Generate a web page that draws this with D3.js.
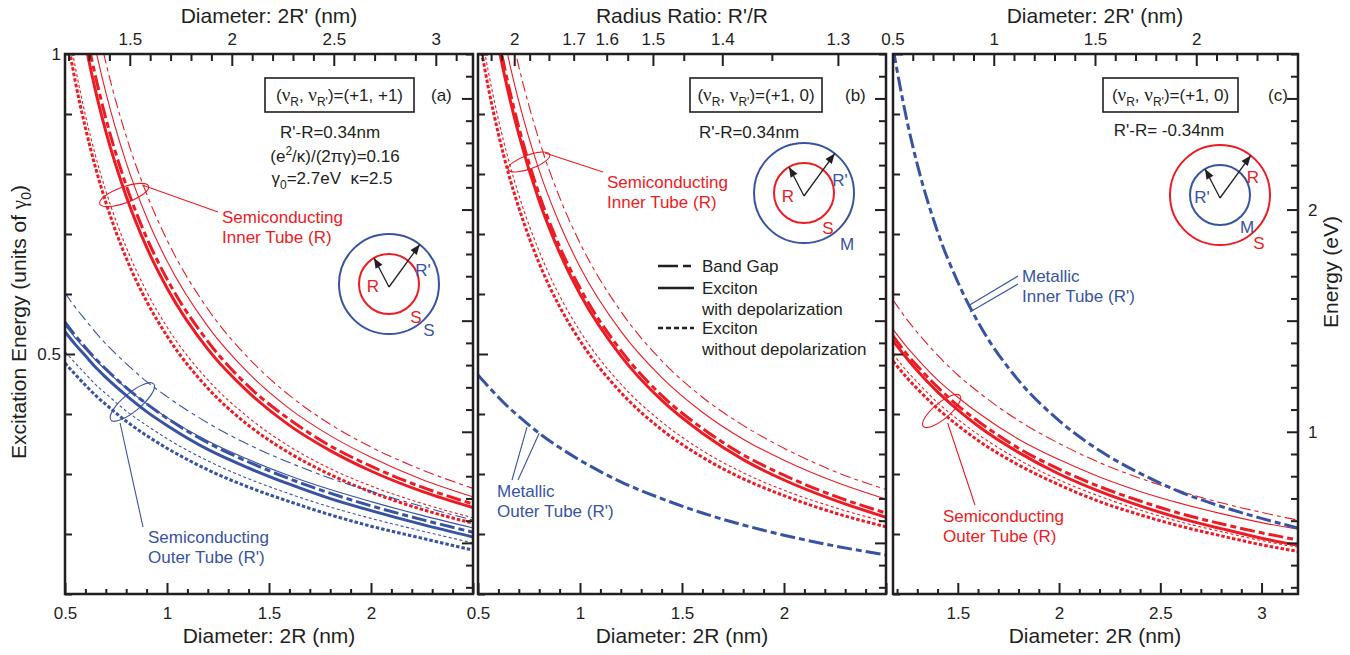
<!DOCTYPE html>
<html>
<head>
<meta charset="utf-8">
<title>Excitation energy of double-walled tubes</title>
<script src="https://d3js.org/d3.v7.min.js"></script>
<style>
  body { margin: 0; background: #fff; }
  text { font-family: "Liberation Sans", Arial, sans-serif; fill: #231f20; }
</style>
</head>
<body>
<div id="stage"></div>
<script>
// diameters 2R (nm) where curves were read, panels (a) and (b)
var dAB = [0.5, 0.55, 0.6, 0.65, 0.7, 0.8, 0.9, 1.0, 1.2, 1.4, 1.6, 1.8, 2.0, 2.25, 2.5];
// diameters 2R (nm) for panel (c)
var dC = [1.18, 1.25, 1.3, 1.4, 1.5, 1.6, 1.8, 2.0, 2.2, 2.4, 2.6, 2.8, 3.0, 3.18];

// panel (a): inner tube (red)
var aInGapThin   = [1.38, 1.255, 1.15, 1.062, 0.986, 0.863, 0.767, 0.69, 0.575, 0.493, 0.431, 0.383, 0.345, 0.307, 0.276];
var aInExThin    = [1.31, 1.191, 1.092, 1.008, 0.936, 0.819, 0.728, 0.655, 0.546, 0.468, 0.409, 0.364, 0.328, 0.291, 0.262];
var aInGap       = [1.25, 1.136, 1.042, 0.962, 0.893, 0.781, 0.694, 0.625, 0.521, 0.446, 0.391, 0.347, 0.313, 0.278, 0.25];
var aInEx        = [1.22, 1.109, 1.017, 0.938, 0.871, 0.763, 0.678, 0.61, 0.508, 0.436, 0.381, 0.339, 0.305, 0.271, 0.244];
var aInNoDepThin = [1.075, 0.979, 0.898, 0.83, 0.772, 0.678, 0.604, 0.545, 0.457, 0.394, 0.346, 0.309, 0.28, 0.251, 0.227];
var aInNoDep     = [1.05, 0.955, 0.877, 0.81, 0.753, 0.66, 0.588, 0.53, 0.443, 0.381, 0.335, 0.299, 0.27, 0.241, 0.218];
// panel (a): outer tube (blue)
var aOutGapThin   = [0.602, 0.578, 0.557, 0.536, 0.517, 0.484, 0.454, 0.429, 0.385, 0.349, 0.319, 0.293, 0.271, 0.246, 0.223];
var aOutExThin    = [0.548, 0.527, 0.508, 0.49, 0.473, 0.443, 0.417, 0.394, 0.355, 0.324, 0.297, 0.274, 0.254, 0.231, 0.21];
var aOutGap       = [0.553, 0.531, 0.511, 0.492, 0.475, 0.444, 0.417, 0.393, 0.352, 0.32, 0.292, 0.268, 0.247, 0.224, 0.203];
var aOutEx        = [0.537, 0.516, 0.497, 0.478, 0.461, 0.431, 0.404, 0.381, 0.341, 0.31, 0.283, 0.259, 0.239, 0.216, 0.195];
var aOutNoDepThin = [0.504, 0.485, 0.467, 0.449, 0.434, 0.405, 0.381, 0.359, 0.322, 0.292, 0.267, 0.245, 0.226, 0.205, 0.185];
var aOutNoDep     = [0.485, 0.466, 0.448, 0.431, 0.416, 0.388, 0.364, 0.343, 0.307, 0.278, 0.254, 0.232, 0.213, 0.193, 0.173];

// panel (b): inner tube (red), metallic outer tube (blue)
var bInGapThin   = [1.37, 1.245, 1.142, 1.054, 0.979, 0.856, 0.761, 0.685, 0.571, 0.489, 0.428, 0.381, 0.343, 0.304, 0.274];
var bInExThin    = [1.29, 1.173, 1.075, 0.992, 0.921, 0.806, 0.717, 0.645, 0.538, 0.461, 0.403, 0.358, 0.323, 0.287, 0.258];
var bInGap       = [1.235, 1.121, 1.027, 0.947, 0.878, 0.766, 0.679, 0.61, 0.506, 0.431, 0.376, 0.332, 0.298, 0.263, 0.235];
var bInEx        = [1.22, 1.107, 1.013, 0.934, 0.866, 0.755, 0.669, 0.6, 0.497, 0.423, 0.368, 0.324, 0.29, 0.256, 0.228];
var bInNoDepThin = [1.068, 0.972, 0.891, 0.823, 0.765, 0.671, 0.597, 0.538, 0.45, 0.387, 0.339, 0.302, 0.273, 0.244, 0.22];
var bInNoDep     = [1.039, 0.945, 0.867, 0.8, 0.744, 0.651, 0.579, 0.522, 0.436, 0.374, 0.328, 0.292, 0.264, 0.235, 0.212];
var bOutMetal    = [0.465, 0.446, 0.428, 0.411, 0.396, 0.368, 0.344, 0.323, 0.287, 0.259, 0.235, 0.215, 0.198, 0.18, 0.165];

// panel (c): outer tube (red), metallic inner tube (blue)
var cOutGapThin   = [0.59, 0.557, 0.536, 0.498, 0.465, 0.437, 0.389, 0.351, 0.319, 0.293, 0.271, 0.252, 0.236, 0.223];
var cOutExThin    = [0.541, 0.511, 0.492, 0.457, 0.428, 0.402, 0.358, 0.324, 0.295, 0.271, 0.251, 0.234, 0.219, 0.208];
var cOutGap       = [0.53, 0.499, 0.48, 0.445, 0.414, 0.388, 0.343, 0.308, 0.279, 0.255, 0.234, 0.217, 0.202, 0.19];
var cOutEx        = [0.522, 0.492, 0.472, 0.437, 0.407, 0.38, 0.336, 0.3, 0.271, 0.247, 0.226, 0.209, 0.193, 0.181];
var cOutNoDepThin = [0.5, 0.471, 0.453, 0.419, 0.391, 0.366, 0.324, 0.29, 0.263, 0.24, 0.22, 0.204, 0.189, 0.178];
var cOutNoDep     = [0.488, 0.46, 0.442, 0.409, 0.381, 0.356, 0.315, 0.282, 0.254, 0.232, 0.213, 0.197, 0.182, 0.171];
var cInMetal      = [1.01, 0.887, 0.816, 0.704, 0.62, 0.553, 0.456, 0.389, 0.339, 0.301, 0.27, 0.246, 0.226, 0.21];

// tick values
var unitMinor = [0.1, 0.2, 0.3, 0.4, 0.6, 0.7, 0.8, 0.9];
var unitMajor = [0.5, 1];
var eVMinor = [0.3, 0.4, 0.6, 0.7, 0.8, 0.9, 1.1, 1.2, 1.3, 1.4, 1.6, 1.7, 1.8, 1.9, 2.1, 2.2, 2.3, 2.4, 2.6, 2.7];
var eVMajor = [0.5, 1, 1.5, 2, 2.5];
var eVLabels = [1, 2];
var ratioMajor = [2, 1.5, 1.4, 1.3];
var ratioMinor = [2.3, 2.2, 2.1, 1.9, 1.8, 1.7, 1.6, 1.55, 1.45, 1.35];
var ratioLabels = [2, 1.7, 1.6, 1.5, 1.4, 1.3];

var gamma0 = 2.7;   // eV
var shell = 0.68;   // 2(R'-R) in nm

var RED = "#ed1c24", BLUE = "#3953a4";

var svg = d3.select("#stage").append("svg").attr("width", 1350).attr("height", 655);

var yTop = 54, yBot = 594;
var y = d3.scaleLinear().domain([0.1, 1]).range([yBot, yTop]);
var yE = d3.scaleLinear().domain([0.1 * gamma0, gamma0]).range([yBot, yTop]);

var xa = d3.scaleLinear().domain([0.5, 2.5]).range([65, 473]);
var xb = d3.scaleLinear().domain([0.5, 2.5]).range([478, 886]);
var xc = d3.scaleLinear().domain([1.18, 3.18]).range([893, 1298]);

function dash(kind, thick) {
  if (kind === "gap") return thick ? "15,4,6,4" : "11,4,4,4";
  if (kind === "dot") return thick ? "3.5,2" : "3,2.5";
  return null;
}

function tickAxis(g, axis, len, vals, fmt) {
  g.call(axis.tickValues(vals).tickSize(len).tickPadding(6).tickFormat(fmt || ""))
   .call(function (s) { s.select(".domain").remove(); })
   .call(function (s) { s.selectAll("line").attr("stroke", "#231f20").attr("stroke-width", 2); })
   .call(function (s) { s.selectAll("text").attr("font-size", 17).attr("fill", "#231f20")
       .style("font-family", "Liberation Sans, Arial, sans-serif"); });
}

function panel(id, x, grid, series, bottomLabels) {
  var g = svg.append("g");
  var x0 = x.range()[0], x1 = x.range()[1];
  svg.append("clipPath").attr("id", "clip" + id)
    .append("rect").attr("x", x0).attr("y", yTop).attr("width", x1 - x0).attr("height", yBot - yTop);

  var line = d3.line().x(function (d) { return x(d[0]); }).y(function (d) { return y(d[1]); })
    .curve(d3.curveMonotoneX);
  var lines = g.append("g").attr("clip-path", "url(#clip" + id + ")");
  series.forEach(function (s) {
    lines.append("path")
      .datum(grid.map(function (d, i) { return [d, s.v[i]]; }))
      .attr("d", line)
      .attr("fill", "none")
      .attr("stroke", s.c)
      .attr("stroke-width", s.w ? 3 : 1.1)
      .attr("stroke-dasharray", dash(s.k, s.w));
  });

  // bottom ticks
  var minorB = d3.range(Math.ceil(x.domain()[0] * 10), Math.floor(x.domain()[1] * 10) + 1)
    .map(function (v) { return v / 10; }).filter(function (v) { return Math.abs(v * 2 - Math.round(v * 2)) > 1e-6; });
  var majorB = d3.range(Math.ceil(x.domain()[0] * 2), Math.floor(x.domain()[1] * 2) + 1).map(function (v) { return v / 2; });
  tickAxis(g.append("g").attr("transform", "translate(0," + yBot + ")"), d3.axisBottom(x), -5, minorB);
  var lab = g.append("g").attr("transform", "translate(0," + yBot + ")");
  tickAxis(lab, d3.axisBottom(x), -11, majorB,
    function (v) { return bottomLabels.indexOf(v) >= 0 ? String(v) : ""; });
  lab.selectAll("text").attr("y", 10).attr("dy", "0.9em");

  // left ticks (units of gamma0)
  tickAxis(g.append("g").attr("transform", "translate(" + x0 + ",0)"), d3.axisLeft(y), -7, unitMinor);
  tickAxis(g.append("g").attr("transform", "translate(" + x0 + ",0)"), d3.axisLeft(y), -10, unitMajor);
  // right ticks (eV)
  tickAxis(g.append("g").attr("transform", "translate(" + x1 + ",0)"), d3.axisRight(yE), -7, eVMinor);
  tickAxis(g.append("g").attr("transform", "translate(" + x1 + ",0)"), d3.axisRight(yE), -11, eVMajor);

  g.append("rect").attr("x", x0).attr("y", yTop).attr("width", x1 - x0).attr("height", yBot - yTop)
    .attr("fill", "none").attr("stroke", "#231f20").attr("stroke-width", 2.5);
  return g;
}

var ga = panel("a", xa, dAB, [
  { v: aInGapThin, c: RED, k: "gap", w: false },
  { v: aInExThin, c: RED, k: "solid", w: false },
  { v: aInNoDepThin, c: RED, k: "dot", w: false },
  { v: aInGap, c: RED, k: "gap", w: true },
  { v: aInEx, c: RED, k: "solid", w: true },
  { v: aInNoDep, c: RED, k: "dot", w: true },
  { v: aOutGapThin, c: BLUE, k: "gap", w: false },
  { v: aOutExThin, c: BLUE, k: "solid", w: false },
  { v: aOutNoDepThin, c: BLUE, k: "dot", w: false },
  { v: aOutGap, c: BLUE, k: "gap", w: true },
  { v: aOutEx, c: BLUE, k: "solid", w: true },
  { v: aOutNoDep, c: BLUE, k: "dot", w: true }
], [0.5, 1, 1.5, 2]);

// unit labels on the left of (a)
unitMajor.forEach(function (v) {
  svg.append("text").attr("x", 61).attr("y", y(v)).attr("dy", "0.35em").attr("text-anchor", "end")
    .attr("font-size", 17).text(v);
});

var gb = panel("b", xb, dAB, [
  { v: bInGapThin, c: RED, k: "gap", w: false },
  { v: bInExThin, c: RED, k: "solid", w: false },
  { v: bInNoDepThin, c: RED, k: "dot", w: false },
  { v: bInGap, c: RED, k: "gap", w: true },
  { v: bInEx, c: RED, k: "solid", w: true },
  { v: bInNoDep, c: RED, k: "dot", w: true },
  { v: bOutMetal, c: BLUE, k: "gap", w: true }
], [0.5, 1, 1.5, 2]);

var gc = panel("c", xc, dC, [
  { v: cOutGapThin, c: RED, k: "gap", w: false },
  { v: cOutExThin, c: RED, k: "solid", w: false },
  { v: cOutNoDepThin, c: RED, k: "dot", w: false },
  { v: cOutGap, c: RED, k: "gap", w: true },
  { v: cOutEx, c: RED, k: "solid", w: true },
  { v: cOutNoDep, c: RED, k: "dot", w: true },
  { v: cInMetal, c: BLUE, k: "gap", w: true }
], [1.5, 2, 2.5, 3]);

// top axes
function topTicks(g, pos, minor, major, labels) {
  minor.forEach(function (v) {
    g.append("line").attr("x1", pos(v)).attr("x2", pos(v)).attr("y1", yTop).attr("y2", yTop + 7)
      .attr("stroke", "#231f20").attr("stroke-width", 2);
  });
  major.forEach(function (v) {
    g.append("line").attr("x1", pos(v)).attr("x2", pos(v)).attr("y1", yTop).attr("y2", yTop + 12)
      .attr("stroke", "#231f20").attr("stroke-width", 2);
  });
  labels.forEach(function (v) {
    g.append("text").attr("x", pos(v)).attr("y", yTop - 9).attr("text-anchor", "middle")
      .attr("font-size", 17).text(v);
  });
}
var xaTop = d3.scaleLinear().domain([xa.domain()[0] + shell, xa.domain()[1] + shell]).range(xa.range());
var xcTop = d3.scaleLinear().domain([xc.domain()[0] - shell, xc.domain()[1] - shell]).range(xc.range());
topTicks(ga, xaTop, d3.range(12, 32).map(function (v) { return v / 10; }).filter(function (v) { return Math.round(v * 10) % 5 !== 0; }),
  [1.5, 2, 2.5, 3], [1.5, 2, 2.5, 3]);
topTicks(gb, function (r) { return xb(shell / (r - 1)); }, ratioMinor, ratioMajor, ratioLabels);
topTicks(gc, xcTop, d3.range(6, 25).map(function (v) { return v / 10; }).filter(function (v) { return Math.round(v * 10) % 5 !== 0; }),
  [1, 1.5, 2], [0.5, 1, 1.5, 2]);

// energy labels on the right of (c)
eVLabels.forEach(function (v) {
  svg.append("text").attr("x", 1308).attr("y", yE(v)).attr("dy", "0.35em").attr("font-size", 17).text(v);
});

// axis titles
function title(x, yy, txt, rot) {
  var t = svg.append("text").attr("font-size", 21).attr("text-anchor", "middle");
  if (rot) t.attr("transform", "translate(" + x + "," + yy + ") rotate(-90)");
  else t.attr("x", x).attr("y", yy);
  return t.text(txt);
}
title(269, 23, "Diameter: 2R' (nm)");
title(682, 23, "Radius Ratio: R'/R");
title(1095, 23, "Diameter: 2R' (nm)");
title(269, 643, "Diameter: 2R (nm)");
title(682, 643, "Diameter: 2R (nm)");
title(1095, 643, "Diameter: 2R (nm)");
title(1338, 272, "Energy (eV)", true);
var lt = svg.append("text").attr("font-size", 21).attr("text-anchor", "middle")
  .attr("transform", "translate(26,322) rotate(-90)");
lt.append("tspan").text("Excitation Energy (units of ");
lt.append("tspan").attr("font-family", "Liberation Serif, serif").text("\u03b3");
lt.append("tspan").attr("font-size", 14).attr("dy", 5).text("0");
lt.append("tspan").attr("dy", -5).text(")");

// helper for multi-part text
function rich(x, yy, parts, color, anchor) {
  var t = svg.append("text").attr("x", x).attr("y", yy).attr("font-size", 17)
    .attr("text-anchor", anchor || "start").style("fill", color || "#231f20");
  parts.forEach(function (p) {
    var s = t.append("tspan").text(p.t);
    if (p.sub) s.attr("font-size", 12).attr("dy", 5);
    if (p.sup) s.attr("font-size", 12).attr("dy", -7);
    if (p.back) s.attr("dy", p.back);
    if (p.serif) s.attr("font-family", "Liberation Serif, serif").attr("font-size", 19);
  });
  return t;
}

function nuBox(x, yy, w, tail) {
  svg.append("rect").attr("x", x).attr("y", yy).attr("width", w).attr("height", 34)
    .attr("fill", "none").attr("stroke", "#231f20").attr("stroke-width", 1.6);
  rich(x + w / 2, yy + 23, [
    { t: "(" }, { t: "\u03bd", serif: true }, { t: "R", sub: true }, { t: ", ", back: -5 },
    { t: "\u03bd", serif: true }, { t: "R'", sub: true }, { t: ")=" + tail, back: -5 }
  ], null, "middle");
}
nuBox(265, 78, 149, "(+1, +1)");
nuBox(690, 78, 132, "(+1, 0)");
nuBox(1103, 78, 135, "(+1, 0)");
rich(431, 101, [{ t: "(a)" }]);
rich(845, 101, [{ t: "(b)" }]);
rich(1268, 101, [{ t: "(c)" }]);

rich(330, 138, [{ t: "R'-R=0.34nm" }], null, "middle");
rich(335, 162, [{ t: "(e" }, { t: "2", sup: true }, { t: "/\u03ba)/(2\u03c0\u03b3)=0.16", back: 7 }], null, "middle");
rich(332, 184, [{ t: "\u03b3" }, { t: "0", sub: true }, { t: "=2.7eV \u00a0\u03ba=2.5", back: -5 }], null, "middle");
rich(749, 138, [{ t: "R'-R=0.34nm" }], null, "middle");
rich(1169, 136, [{ t: "R'-R= -0.34nm" }], null, "middle");

// tube cross-section sketches
function tubes(cx, cy, innerC, outerC, labels) {
  svg.append("circle").attr("cx", cx).attr("cy", cy).attr("r", 50)
    .attr("fill", "none").attr("stroke", outerC).attr("stroke-width", 2);
  svg.append("circle").attr("cx", cx).attr("cy", cy).attr("r", 30)
    .attr("fill", "none").attr("stroke", innerC).attr("stroke-width", 2);
  [[120, 30], [52, 50]].forEach(function (a) {
    var ang = a[0] * Math.PI / 180, r = a[1];
    var tx = cx + r * Math.cos(ang), ty = cy - r * Math.sin(ang);
    svg.append("line").attr("x1", cx).attr("y1", cy + 3).attr("x2", tx).attr("y2", ty)
      .attr("stroke", "#231f20").attr("stroke-width", 1.3);
    var hx = -Math.cos(ang), hy = Math.sin(ang);
    var px = -hy, py = hx;
    svg.append("path")
      .attr("d", "M" + tx + "," + ty + "L" + (tx + 10 * hx + 4 * px) + "," + (ty + 10 * hy + 4 * py) +
        "L" + (tx + 10 * hx - 4 * px) + "," + (ty + 10 * hy - 4 * py) + "Z")
      .attr("fill", "#231f20");
  });
  labels.forEach(function (l) {
    svg.append("text").attr("x", cx + l[0]).attr("y", cy + l[1]).attr("dy", "0.35em")
      .attr("text-anchor", "middle").attr("font-size", 17).style("fill", l[3]).text(l[2]);
  });
}
tubes(389, 284, RED, BLUE, [[-16, 2, "R", RED], [34, -14, "R'", BLUE], [27, 33, "S", RED], [40, 46, "S", BLUE]]);
tubes(804, 193, RED, BLUE, [[-16, 3, "R", RED], [36, -13, "R'", BLUE], [24, 35, "S", RED], [43, 51, "M", BLUE]]);
tubes(1220, 195, BLUE, RED, [[-18, 2, "R'", BLUE], [33, -18, "R", RED], [27, 32, "M", BLUE], [39, 48, "S", RED]]);

// legend in (b)
var legend = [["gap", "Band Gap", null, 266], ["solid", "Exciton", "with depolarization", 288], ["dot", "Exciton", "without depolarization", 328]];
legend.forEach(function (l) {
  svg.append("line").attr("x1", 658).attr("x2", 694).attr("y1", l[3]).attr("y2", l[3])
    .attr("stroke", "#231f20").attr("stroke-width", 2.5)
    .attr("stroke-dasharray", l[0] === "gap" ? "20,5,8,5" : (l[0] === "dot" ? "5,3" : null));
  svg.append("text").attr("x", 702).attr("y", l[3] + 6).attr("font-size", 17).text(l[1]);
  if (l[2]) svg.append("text").attr("x", 702).attr("y", l[3] + 27).attr("font-size", 17).text(l[2]);
});

// curve annotations
function note(lines, x, yy, color) {
  lines.forEach(function (s, i) {
    svg.append("text").attr("x", x).attr("y", yy + i * 20).attr("font-size", 17).style("fill", color).text(s);
  });
}
function pointer(pts, color) {
  svg.append("path").attr("d", d3.line()(pts)).attr("fill", "none").attr("stroke", color).attr("stroke-width", 1.1);
}
function ring(cx, cy, rx, ry, rot, color) {
  svg.append("ellipse").attr("cx", cx).attr("cy", cy).attr("rx", rx).attr("ry", ry)
    .attr("transform", "rotate(" + rot + "," + cx + "," + cy + ")")
    .attr("fill", "none").attr("stroke", color).attr("stroke-width", 1.1);
}
note(["Semiconducting", "Inner Tube (R)"], 222, 223, RED);
ring(xa(0.79), y(0.765), 26, 8, -20, RED);
pointer([[218, 212], [xa(0.79) + 18, y(0.765) - 10]], RED);

note(["Semiconducting", "Outer Tube (R')"], 148, 543, BLUE);
ring(xa(0.83), y(0.42), 28, 9, -40, BLUE);
pointer([[143, 527], [xa(0.77), y(0.385)]], BLUE);

note(["Semiconducting", "Inner Tube (R)"], 607, 188, RED);
ring(xb(0.75), y(0.82), 22, 7, -20, RED);
pointer([[603, 172], [xb(0.75) + 16, y(0.82) - 9]], RED);

note(["Metallic", "Outer Tube (R')"], 497, 497, BLUE);
pointer([[512, 480], [xb(0.74), y(0.378)]], BLUE);
pointer([[518, 480], [xb(0.8), y(0.368)]], BLUE);

note(["Metallic", "Inner Tube (R')"], 1022, 282, BLUE);
pointer([[1018, 276], [xc(1.55), y(0.58)]], BLUE);
pointer([[1018, 284], [xc(1.56), y(0.57)]], BLUE);

note(["Semiconducting", "Outer Tube (R)"], 943, 522, RED);
ring(xc(1.42), y(0.405), 24, 8, -40, RED);
pointer([[975, 505], [xc(1.45), y(0.385)]], RED);
</script>
</body>
</html>
